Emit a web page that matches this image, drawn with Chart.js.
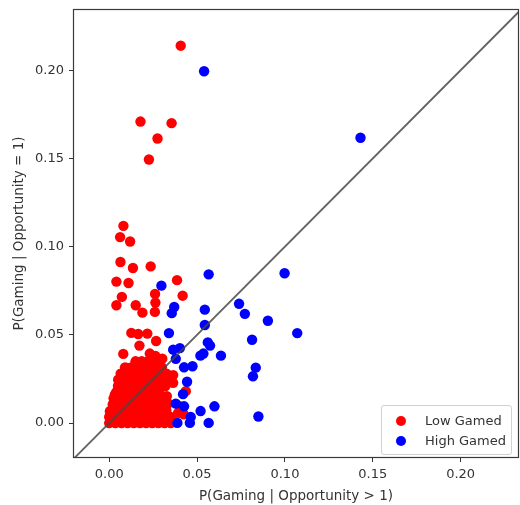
<!DOCTYPE html>
<html>
<head>
<meta charset="utf-8">
<title>Gaming scatter</title>
<script src="https://cdn.jsdelivr.net/npm/chart.js@4.4.0/dist/chart.umd.min.js"></script>
<style>
  html, body { margin: 0; padding: 0; background: #fff; }
  #wrap { position: relative; width: 520px; height: 505px; }
  #legend {
    position: absolute; left: 381px; top: 405px; width: 131px; height: 50px;
    box-sizing: border-box; border: 1px solid #d0d0d0; border-radius: 3px;
    background: rgba(255,255,255,0.85);
    font: 13px 'DejaVu Sans', sans-serif; color: #333;
  }
  .item { position: absolute; left: 0; height: 20px; line-height: 20px; white-space: nowrap; }
  .dot { position: absolute; left: 14px; top: 5px; width: 10px; height: 10px; border-radius: 50%; }
  .lbl { position: absolute; left: 43px; top: 0; }
</style>
</head>
<body>
<div id="wrap">
  <canvas id="chart" width="520" height="505"></canvas>
  <div id="legend"></div>
</div>
<script>
/* ── Data ── */
const LOW_LABEL  = 'Low Gamed';
const HIGH_LABEL = 'High Gamed';
const X_LABEL = 'P(Gaming | Opportunity > 1)';
const Y_LABEL = 'P(Gaming | Opportunity = 1)';

const X_TICKS = [0, 0.05, 0.10, 0.15, 0.20];
const Y_TICKS = [0, 0.05, 0.10, 0.15, 0.20];

// scattered red points, then the dense block near the origin row by row
const LOW_X = [
  0.0407, 0.0178, 0.0355, 0.0275, 0.0226, 0.0081, 0.0062, 0.0119, 0.0064, 0.0135,
  0.0236, 0.0041, 0.0110, 0.0386, 0.0072, 0.0261, 0.0418, 0.0041, 0.0151, 0.0263,
  0.0189, 0.0260, 0.0126, 0.0165, 0.0217, 0.0172, 0.0267, 0.0080, 0.0231, 0.0263,
  0.0302, 0.0099, 0.0146, 0.0203, 0.0260, 0.0326, 0.0364, 0.0364, 0.0051, 0.0089,
  0.0032, 0.0108, 0.0328, 0.0436, 0.0334, 0.0004, 0.0023, 0.0402, 0.0410, 0.0392,
  0.0424, 0.0373,
  0.000, 0.0035, 0.007, 0.0105, 0.014, 0.0175, 0.021, 0.0245, 0.028, 0.0315, 0.035,
  0.000, 0.0035, 0.007, 0.0105, 0.014, 0.0175, 0.021, 0.0245, 0.028, 0.0315, 0.035,
  0.001, 0.0045, 0.008, 0.0115, 0.015, 0.0185, 0.022, 0.0255, 0.029, 0.0325,
  0.002, 0.0055, 0.009, 0.0125, 0.016, 0.0195, 0.023, 0.0265, 0.030, 0.033,
  0.0025, 0.006, 0.0095, 0.013, 0.0165, 0.020, 0.0235, 0.027, 0.0305,
  0.004, 0.0075, 0.011, 0.0145, 0.018, 0.0215, 0.025, 0.0285,
  0.005, 0.0085, 0.012, 0.0155, 0.019, 0.0225, 0.026, 0.0295, 0.032,
  0.0055, 0.009, 0.0125, 0.016, 0.0195, 0.023, 0.0265, 0.030, 0.033,
  0.0065, 0.010, 0.0135, 0.017, 0.0205, 0.024, 0.0275, 0.031,
  0.009, 0.0125, 0.016, 0.0195, 0.023, 0.0265, 0.030,
  0.015, 0.0185, 0.022, 0.0255
];
const LOW_Y = [
  0.2139, 0.1709, 0.1700, 0.1613, 0.1494, 0.1118, 0.1054, 0.1029, 0.0913, 0.0879,
  0.0888, 0.0802, 0.0794, 0.0810, 0.0715, 0.0732, 0.0722, 0.0668, 0.0668, 0.0683,
  0.0626, 0.0630, 0.0511, 0.0505, 0.0507, 0.0439, 0.0465, 0.0392, 0.0394, 0.0381,
  0.0365, 0.0313, 0.0322, 0.0313, 0.0331, 0.0280, 0.0272, 0.0228, 0.0246, 0.0265,
  0.0161, 0.0180, 0.0153, 0.0181, 0.0113, 0.0067, 0.0010, 0.0095, 0.0058, 0.0058,
  0.0050, 0.0005,
  0.000, 0.000, 0.000, 0.000, 0.000, 0.000, 0.000, 0.000, 0.000, 0.000, 0.000,
  0.0035, 0.0035, 0.0035, 0.0035, 0.0035, 0.0035, 0.0035, 0.0035, 0.0035, 0.0035, 0.0035,
  0.007, 0.007, 0.007, 0.007, 0.007, 0.007, 0.007, 0.007, 0.007, 0.007,
  0.0105, 0.0105, 0.0105, 0.0105, 0.0105, 0.0105, 0.0105, 0.0105, 0.0105, 0.0105,
  0.014, 0.014, 0.014, 0.014, 0.014, 0.014, 0.014, 0.014, 0.014,
  0.0175, 0.0175, 0.0175, 0.0175, 0.0175, 0.0175, 0.0175, 0.0175,
  0.021, 0.021, 0.021, 0.021, 0.021, 0.021, 0.021, 0.021, 0.021,
  0.0245, 0.0245, 0.0245, 0.0245, 0.0245, 0.0245, 0.0245, 0.0245, 0.0245,
  0.028, 0.028, 0.028, 0.028, 0.028, 0.028, 0.028, 0.028,
  0.0315, 0.0315, 0.0315, 0.0315, 0.0315, 0.0315, 0.0315,
  0.035, 0.035, 0.035, 0.035
];

const HIGH_X = [
  0.0540, 0.1430, 0.0566, 0.0998, 0.0297, 0.0370, 0.0356, 0.0544, 0.0739, 0.0772,
  0.0903, 0.0544, 0.1070, 0.0340, 0.0813, 0.0561, 0.0574, 0.0364, 0.0402, 0.0379,
  0.0536, 0.0519, 0.0636, 0.0426, 0.0474, 0.0834, 0.0818, 0.0443, 0.0420, 0.0379,
  0.0426, 0.0599, 0.0520, 0.0464, 0.0849, 0.0388, 0.0459, 0.0566
];
const HIGH_Y = [
  0.1994, 0.1617, 0.0843, 0.0849, 0.0779, 0.0658, 0.0623, 0.0643, 0.0676, 0.0619,
  0.0580, 0.0556, 0.0510, 0.0510, 0.0472, 0.0457, 0.0439, 0.0416, 0.0425, 0.0364,
  0.0394, 0.0382, 0.0382, 0.0316, 0.0322, 0.0314, 0.0265, 0.0234, 0.0164, 0.0110,
  0.0095, 0.0095, 0.0068, 0.0035, 0.0037, 0.0001, 0.0001, 0.0001
];

const X_MIN = -0.0206, X_MAX = 0.2332;
const Y_MIN = -0.0198, Y_MAX = 0.2347;
const DIAG  = [-0.03, 0.25];

const RED  = '#ff0000';
const BLUE = '#0000ff';
const INK  = '#333333';
const FONT = "'DejaVu Sans', sans-serif";

function toPoints(xs, ys) { return xs.map((x, i) => ({ x, y: ys[i] })); }

/* ── Axes frame (matplotlib box) ── */
const framePlugin = {
  id: 'frame',
  afterDatasetsDraw(chart) {
    const { ctx, chartArea: a } = chart;
    ctx.save();
    ctx.strokeStyle = '#3a3a3a';
    ctx.lineWidth = 1.2;
    ctx.strokeRect(a.left + 0.5, a.top + 0.5, a.right - a.left - 1, a.bottom - a.top - 1);
    ctx.restore();
  }
};

function axis(min, max, ticks, title, size, isX) {
  return {
    type: 'linear',
    min, max,
    afterFit: s => {
      if (isX) s.height = size; else s.width = size;
      // no extra room for half labels, the frame is placed by layout padding
      s.paddingTop = s.paddingBottom = s.paddingLeft = s.paddingRight = 0;
    },
    afterBuildTicks: s => { s.ticks = ticks.map(v => ({ value: v })); },
    grid: { drawOnChartArea: false, drawTicks: true, tickLength: 4, color: INK, lineWidth: 1 },
    border: { display: false },
    ticks: {
      font: { family: FONT, size: 13 },
      color: INK,
      padding: 5,
      autoSkip: false,
      maxRotation: 0,
      callback: v => Number(v).toFixed(2)
    },
    title: {
      display: true,
      text: title,
      font: { family: FONT, size: 13.5 },
      color: INK,
      padding: isX ? { top: 0, bottom: 0 } : { top: 11, bottom: 0 }
    }
  };
}

const chart = new Chart(document.getElementById('chart'), {
  type: 'scatter',
  data: {
    datasets: [
      {
        type: 'line',
        label: 'diag',
        data: DIAG.map(v => ({ x: v, y: v })),
        borderColor: 'rgba(70,70,70,0.85)',
        borderWidth: 1.8,
        pointRadius: 0,
        fill: false,
        order: 0
      },
      {
        label: HIGH_LABEL,
        data: toPoints(HIGH_X, HIGH_Y),
        backgroundColor: BLUE,
        borderWidth: 0,
        pointRadius: 5.2,
        order: 1
      },
      {
        label: LOW_LABEL,
        data: toPoints(LOW_X, LOW_Y),
        backgroundColor: RED,
        borderWidth: 0,
        pointRadius: 5.2,
        order: 2
      }
    ]
  },
  options: {
    responsive: false,
    animation: false,
    layout: { autoPadding: false, padding: { top: 9, right: 1, left: 0, bottom: 0 } },
    plugins: { legend: { display: false }, tooltip: { enabled: false } },
    scales: {
      x: axis(X_MIN, X_MAX, X_TICKS, X_LABEL, 47, true),
      y: axis(Y_MIN, Y_MAX, Y_TICKS, Y_LABEL, 73, false)
    }
  },
  plugins: [framePlugin]
});

/* ── Legend (inside the axes, lower right) ── */
const legend = document.getElementById('legend');
[[LOW_LABEL, RED], [HIGH_LABEL, BLUE]].forEach(([text, color], i) => {
  const row = document.createElement('div');
  row.className = 'item';
  row.style.top = (5 + i * 19.5) + 'px';
  row.innerHTML = `<span class="dot" style="background:${color}"></span><span class="lbl">${text}</span>`;
  legend.appendChild(row);
});
</script>
</body>
</html>
